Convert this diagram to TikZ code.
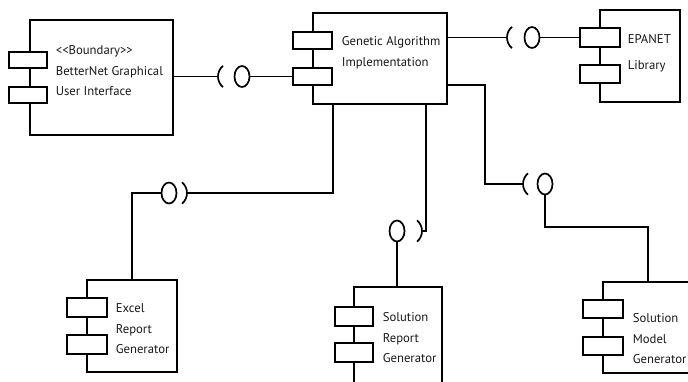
\documentclass[tikz,border=0pt]{standalone}
\usepackage{fontspec}
\setmainfont{PT Sans}
\usetikzlibrary{shapes.geometric}
\begin{document}
\begin{tikzpicture}[x=1pt,y=-1pt, line width=1.7pt,
  comp/.style={draw, anchor=north west, inner sep=0pt, outer sep=0pt},
  port/.style={draw, fill=white, anchor=north west, inner sep=0pt, outer sep=0pt, minimum width=39pt, minimum height=17pt},
  ball/.style={draw, ellipse, inner sep=0pt, outer sep=0pt, minimum width=15pt, minimum height=21pt},
  lbl/.style={anchor=north west, align=left, inner sep=0pt, font=\fontsize{12.7}{20.5}\selectfont, text=black!90}
]
\clip (0,0) rectangle (688,381);
\fill[white] (0,0) rectangle (688,381);

% component boxes
\node[comp, minimum width=143pt, minimum height=115pt] (bn) at (30,20) {};
\node[comp, minimum width=134pt, minimum height=91pt] (ga) at (313,13) {};
\node[comp, minimum width=80pt, minimum height=92pt] (ep) at (600,10) {};
\node[comp, minimum width=90pt, minimum height=92pt] (ex) at (87,280) {};
\node[comp, minimum width=88pt, minimum height=100pt] (sr) at (354,287) {};
\node[comp, minimum width=95pt, minimum height=91pt] (sm) at (603,282) {};

% ports
\node[port, minimum width=38pt, minimum height=16pt] (bn1) at (9,52) {};
\node[port, minimum width=38pt, minimum height=16pt] (bn2) at (9,87) {};
\node[port] (ga1) at (293,32) {};
\node[port] (ga2) at (293,68) {};
\node[port, minimum width=40pt, minimum height=19pt] (ep1) at (580,28) {};
\node[port, minimum width=40pt, minimum height=18pt] (ep2) at (580,65) {};
\node[port, minimum width=40pt, minimum height=19pt] (ex1) at (67,298) {};
\node[port, minimum width=40pt, minimum height=19pt] (ex2) at (67,335) {};
\node[port, minimum width=38pt, minimum height=19pt] (sr1) at (335,307) {};
\node[port, minimum width=38pt, minimum height=19pt] (sr2) at (335,343) {};
\node[port, minimum width=40pt, minimum height=18pt] (sm1) at (583,300) {};
\node[port, minimum width=40pt, minimum height=18pt] (sm2) at (583,337) {};

% labels
\node[lbl] (bnt) at (55,45) {<\kern0pt<Boundary>\kern0pt>\\BetterNet Graphical\\User Interface};
\node[lbl] (gat) at (341,36) {Genetic Algorithm\\Implementation};
\node[lbl] (ept) at (627,34) {EPANET\\[5pt]Library};
\node[lbl] (ext) at (115,303) {Excel\\Report\\Generator};
\node[lbl] (srt) at (382,312) {Solution\\Report\\Generator};
\node[lbl] (smt) at (632,313) {Solution\\Model\\Generator};

% balls (provided interfaces) and sockets (required interfaces)
\node[ball] (b1) at (242,76.5) {};
\coordinate (s1) at (218,76.5);
\node[ball] (b2) at (532,37.5) {};
\coordinate (s2) at (507,37.5);
\node[ball] (b4) at (545,184) {};
\coordinate (s4) at (523,184);
\node[ball] (b3) at (397,231) {};
\coordinate (s3) at (422,231);
\node[ball] (b5) at (169,193) {};
\coordinate (s5) at (187,193);

\foreach \s in {s1,s2,s4} {
  \draw (\s) arc[start angle=180, end angle=130, radius=14pt];
  \draw (\s) arc[start angle=180, end angle=230, radius=14pt];
}
\foreach \s in {s3,s5} {
  \draw (\s) arc[start angle=0, end angle=50, radius=14pt];
  \draw (\s) arc[start angle=0, end angle=-50, radius=14pt];
}

% connectors
\draw (bn.east |- s1) -- (s1);
\draw (b1.east) -- (ga2.west);
\draw (ga.east |- s2) -- (s2);
\draw (b2.east) -- (ep1.west);

\coordinate (c4a) at (485,85);
\draw (ga.east |- c4a) -- (c4a) -- (c4a |- s4) -- (s4);
\coordinate (c4b) at (648,227);
\draw (b4.south) -- (b4.south |- c4b) -- (c4b) -- (c4b |- sm.north);

\coordinate (c3) at (426,231);
\draw (c3 |- ga.south) -- (c3) -- (s3);
\draw (b3.south) -- (b3.south |- sr.north);

\coordinate (c5) at (333,193);
\draw (c5 |- ga.south) -- (c5) -- (s5);
\coordinate (c6) at (132,193);
\draw (b5.west) -- (c6) -- (c6 |- ex.north);
\end{tikzpicture}
\end{document}
